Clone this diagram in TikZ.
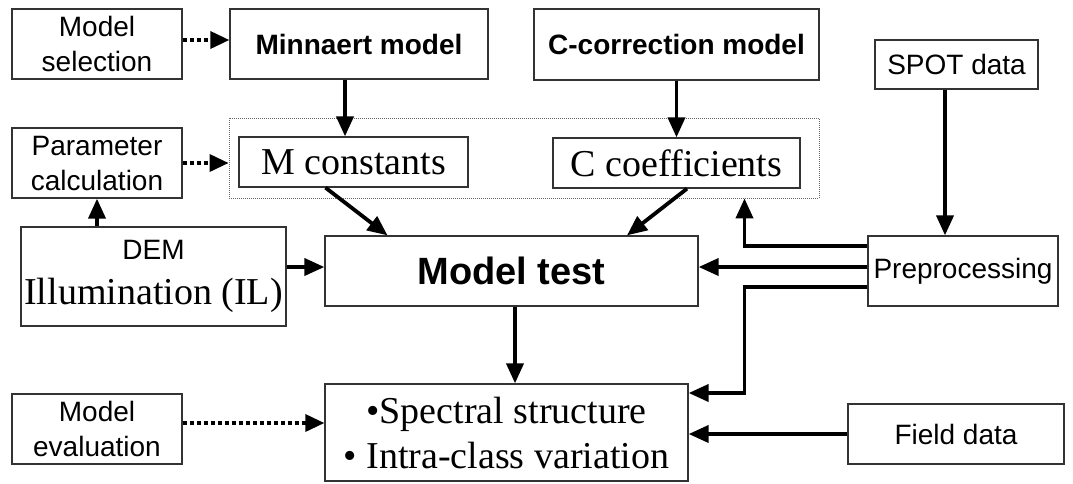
\documentclass[tikz,border=0pt]{standalone}
\usepackage{fontspec}
\setmainfont{Liberation Sans}
\newfontfamily\tnr{Liberation Serif}
\usetikzlibrary{arrows.meta}
\begin{document}
\begin{tikzpicture}[x=1pt,y=-1pt,
  box/.style={draw=black!80, line width=1.3pt, inner sep=0pt, align=center, fill=white},
  small/.style={font=\fontsize{28}{35}\selectfont},
  boldf/.style={font=\bfseries\fontsize{28}{34}\selectfont},
  serif/.style={font=\tnr\fontsize{38}{45}\selectfont},
  conn/.style={line width=3.8pt, -{Triangle[length=20pt,width=17pt]}},
  dconn/.style={line width=3.5pt, dash pattern=on 4pt off 3pt, -{Triangle[length=19pt,width=17pt]}},
  grp/.style={draw=black!60, line width=0.8pt, dash pattern=on 1pt off 1pt, inner sep=0pt}
]
\useasboundingbox (0,0) rectangle (1073,483);
\fill[white] (0,0) rectangle (1073,483);

% group
\node[grp, minimum width=590pt, minimum height=80pt] (group) at (524,158) {};

\node[box, small, minimum width=170pt, minimum height=70pt] (sel) at (97,44) {Model\\selection};
\node[box, boldf, minimum width=258pt, minimum height=70pt] (minn) at (359,44) {Minnaert model};
\node[box, boldf, minimum width=285pt, minimum height=71pt] (ccorr) at (676.5,44.5) {C-correction model};
\node[box, small, minimum width=163pt, minimum height=49pt] (spot) at (956.5,64.5) {SPOT data};

\node[box, serif, minimum width=229pt, minimum height=50pt] (mconst) at (353.5,162) {M constants};
\node[box, serif, minimum width=247pt, minimum height=50pt] (ccoef) at (676.5,163) {C coefficients};
\node[box, small, minimum width=170pt, minimum height=70pt] (param) at (97,163) {Parameter\\calculation};

\node[box, serif, minimum width=265pt, minimum height=99pt] (dem) at (153.5,276.5) {{\rmfamily\fontsize{28}{32}\selectfont DEM}\\Illumination (IL)};
\node[box, font=\bfseries\fontsize{38}{45}\selectfont, minimum width=373pt, minimum height=70pt] (test) at (511.5,271) {Model test};
\node[box, small, minimum width=190pt, minimum height=70pt] (prep) at (963,271) {Preprocessing};

\node[box, serif, minimum width=363pt, minimum height=97pt] (spec) at (506.5,432.5) {\textbullet Spectral structure\\\textbullet{} Intra-class variation};
\node[box, small, minimum width=170pt, minimum height=70pt] (eval) at (97,429) {Model\\evaluation};
\node[box, small, minimum width=216pt, minimum height=60pt] (field) at (956,434) {Field data};

% helper coordinates
\coordinate (xa) at (345,0);
\coordinate (xb) at (744.5,0);
\coordinate (xs) at (945,0);
\coordinate (xt) at (515,0);
\coordinate (y1) at (0,246);
\coordinate (y2) at (0,267);
\coordinate (y3) at (0,287);
\coordinate (y4) at (0,393);
\coordinate (y5) at (0,423);
\coordinate (c1) at (744.5,393);

% dotted
\draw[dconn] ([yshift=4pt]sel.east) -- ([yshift=4pt]minn.west);
\draw[dconn] (param.east) -- (param.east -| group.west);
\draw[dconn] (eval.east |- y5) -- (spec.west |- y5);

% solid
\draw[conn] (minn.south -| xa) -- (mconst.north -| xa);
\draw[conn] (ccorr.south) -- (ccoef.north);
\draw[conn] ([xshift=-28pt]mconst.south) -- ([xshift=-124pt]test.north);
\draw[conn] ([xshift=10.5pt]ccoef.south) -- ([xshift=115.5pt]test.north);
\draw[conn] (dem.north -| param.south) -- (param.south);
\draw[conn] (dem.east |- y2) -- (test.west |- y2);
\draw[conn] (spot.south -| xs) -- (prep.north -| xs);
\draw[conn] (prep.west |- y1) -| (group.south -| xb);
\draw[conn] (prep.west |- y2) -- (test.east |- y2);
\draw[conn] (prep.west |- y3) -| (c1) -- (spec.east |- y4);
\draw[conn] (test.south -| xt) -- (spec.north -| xt);
\draw[conn] (field.west) -- (field.west -| spec.east);
\end{tikzpicture}
\end{document}
